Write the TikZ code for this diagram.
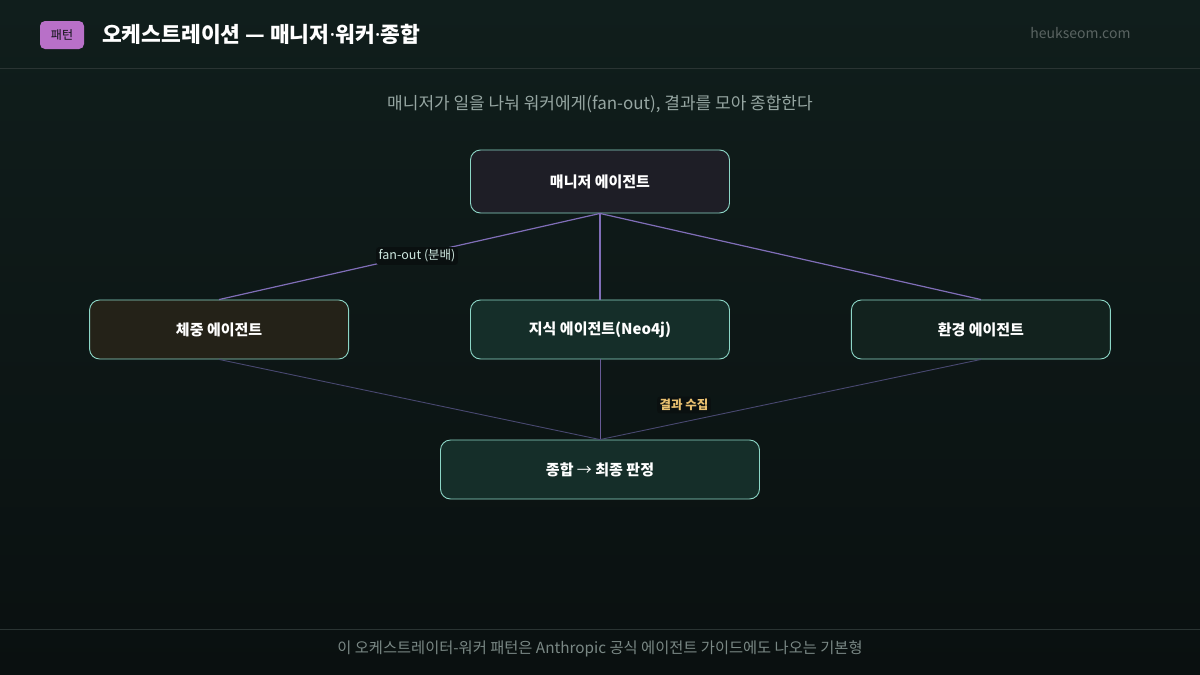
\documentclass[tikz,border=0pt]{standalone}
\usepackage{fontspec}
\setmainfont{Noto Sans CJK KR}
\newfontfamily\dotfont{Noto Sans}
\usepackage{tikz}
\usetikzlibrary{positioning}
\definecolor{bgtop}{RGB}{16, 30, 28}
\definecolor{bgbot}{RGB}{10, 16, 16}
\definecolor{rule}{RGB}{42, 52, 51}
\definecolor{badge}{RGB}{184, 112, 200}
\definecolor{edge}{RGB}{140, 214, 198}
\definecolor{fanline}{RGB}{128, 110, 184}
\definecolor{dimline}{RGB}{72, 72, 112}
\definecolor{mgrfill}{RGB}{30, 30, 38}
\definecolor{bodyfill}{RGB}{36, 34, 24}
\definecolor{kbfill}{RGB}{21, 46, 41}
\definecolor{envfill}{RGB}{18, 34, 30}
\definecolor{subtext}{RGB}{150, 166, 162}
\definecolor{mutetext}{RGB}{90, 100, 98}
\definecolor{gold}{RGB}{232, 192, 112}
\definecolor{mint}{RGB}{206, 232, 224}
\newcommand{\mdot}{{\dotfont\bfseries ·}}

\tikzset{
  agentbox/.style={draw=edge, line width=0.9pt, rounded corners=10pt,
    minimum width=259pt, minimum height=59pt, text=white,
    font=\fontsize{15}{18}\selectfont\bfseries},
  edgetag/.style={fill=bgbot, rounded corners=3pt, inner sep=2.5pt,
    font=\fontsize{12.5}{14}\selectfont}
}

\begin{document}
\begin{tikzpicture}[x=1pt, y=-1pt]
  \useasboundingbox (0,0) rectangle (1200,675);
  \shade[top color=bgtop, bottom color=bgbot] (0,0) rectangle (1200,675);

  % header and footer
  \draw[rule, line width=0.8pt] (0,68) -- (1200,68);
  \draw[rule, line width=0.8pt] (0,629) -- (1200,629);
  \node[fill=badge, rounded corners=5pt, minimum width=44pt, minimum height=28pt,
        inner sep=0pt, text=bgbot, font=\fontsize{12}{14}\selectfont] (badge) at (62,35) {패턴};
  \node[anchor=west, inner sep=0pt, text=white,
        font=\fontsize{21.5}{25}\selectfont\bfseries] (title) at (102,34)
        {오케스트레이션 — 매니저\mdot 워커\mdot 종합};
  \node[anchor=east, text=mutetext, font=\fontsize{14}{16}\selectfont] (site) at (1134,33) {heukseom.com};
  \node[text=subtext, font=\fontsize{17}{20}\selectfont] (lead) at (600,104)
        {매니저가 일을 나눠 워커에게(fan-out), 결과를 모아 종합한다};

  % agents
  \node[agentbox, minimum height=63pt, fill=mgrfill] (manager) at (600,181.5) {매니저 에이전트};
  \node[agentbox, fill=kbfill] (kb) at (600,329.5) {지식 에이전트(Neo4j)};
  \node[agentbox, fill=bodyfill, left=121pt of kb] (body) {체중 에이전트};
  \node[agentbox, fill=envfill, right=121pt of kb] (env) {환경 에이전트};
  \node[agentbox, minimum width=319pt, fill=kbfill] (verdict) at (600,469.5) {종합 {\mdseries →} 최종 판정};

  % fan-out
  \draw[fanline, line width=1.2pt] (manager.south) -- (body.north);
  \draw[fanline, line width=1.2pt] (manager.south) -- (kb.north);
  \draw[fanline, line width=1.2pt] (manager.south) -- (env.north);
  % collect
  \draw[dimline, line width=0.9pt] (body.south) -- (verdict.north);
  \draw[fanline!80!bgbot, line width=0.9pt] (kb.south) -- (verdict.north);
  \draw[dimline, line width=0.9pt] (env.south) -- (verdict.north);

  \node[edgetag, text=mint] (fantag) at (417,256) {fan-out (분배)};
  \node[edgetag, text=gold, font=\fontsize{12.5}{14}\selectfont\bfseries] (gathertag) at (684,405) {결과 수집};

  \node[text=subtext!80!bgbot, font=\fontsize{15.3}{18}\selectfont] (note) at (600,649)
        {이 오케스트레이터-워커 패턴은 Anthropic 공식 에이전트 가이드에도 나오는 기본형};
\end{tikzpicture}
\end{document}
